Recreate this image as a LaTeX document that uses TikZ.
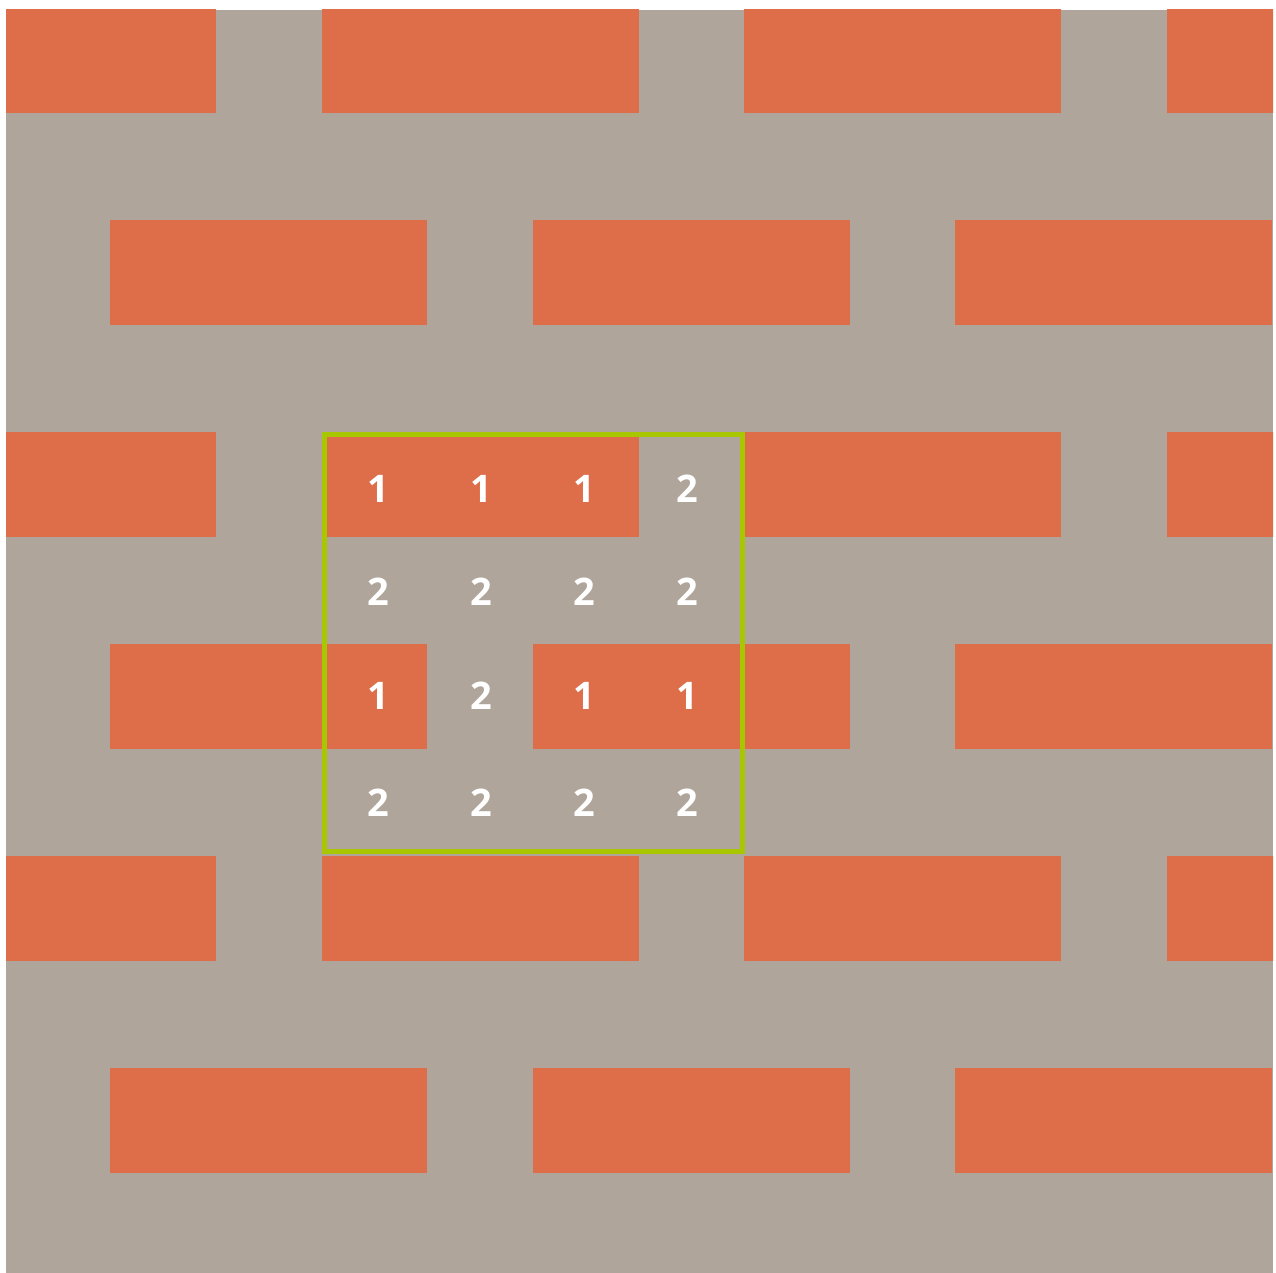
\documentclass[tikz,border=0pt]{standalone}
\usepackage{fontspec}
\setsansfont{Open Sans}
\usetikzlibrary{positioning}
\definecolor{mortar}{HTML}{AFA59A}
\definecolor{brickred}{HTML}{DE6E4A}
\definecolor{framegreen}{HTML}{A9C700}

\begin{document}
\begin{tikzpicture}[
  x=1pt, y=-1pt,
  brick/.style={fill=brickred},
  frame/.style={draw=framegreen, line width=5pt},
  num/.style={text=white, inner sep=0pt, font=\sffamily\bfseries\fontsize{38}{44}\selectfont}
]
\useasboundingbox (0,0) rectangle (1276,1273);
\fill[mortar] (6,10) rectangle (1273,1273);

% brick courses, every other one shifted by half a brick
\begin{scope}
  \clip (6,10) rectangle (1273,1273);
  \foreach \t in {8,432,856}
    \foreach \i in {0,...,3}
      \fill[brick] ({-101+422.5*\i},\t) rectangle ++(317,105);
  \foreach \t in {220,644,1068}
    \foreach \i in {0,...,2}
      \fill[brick] ({110+422.5*\i},\t) rectangle ++(317,105);
\end{scope}

% sample square
\draw[frame] (324.5,434.5) rectangle (742,851.5);

\foreach \v [count=\c] in {1,1,1,2}
  \node[num] (n1\c) at ({275+103*\c},489) {\v};
\foreach \v [count=\c] in {2,2,2,2}
  \node[num] (n2\c) at ({275+103*\c},592) {\v};
\foreach \v [count=\c] in {1,2,1,1}
  \node[num] (n3\c) at ({275+103*\c},696) {\v};
\foreach \v [count=\c] in {2,2,2,2}
  \node[num] (n4\c) at ({275+103*\c},803) {\v};
\end{tikzpicture}
\end{document}
